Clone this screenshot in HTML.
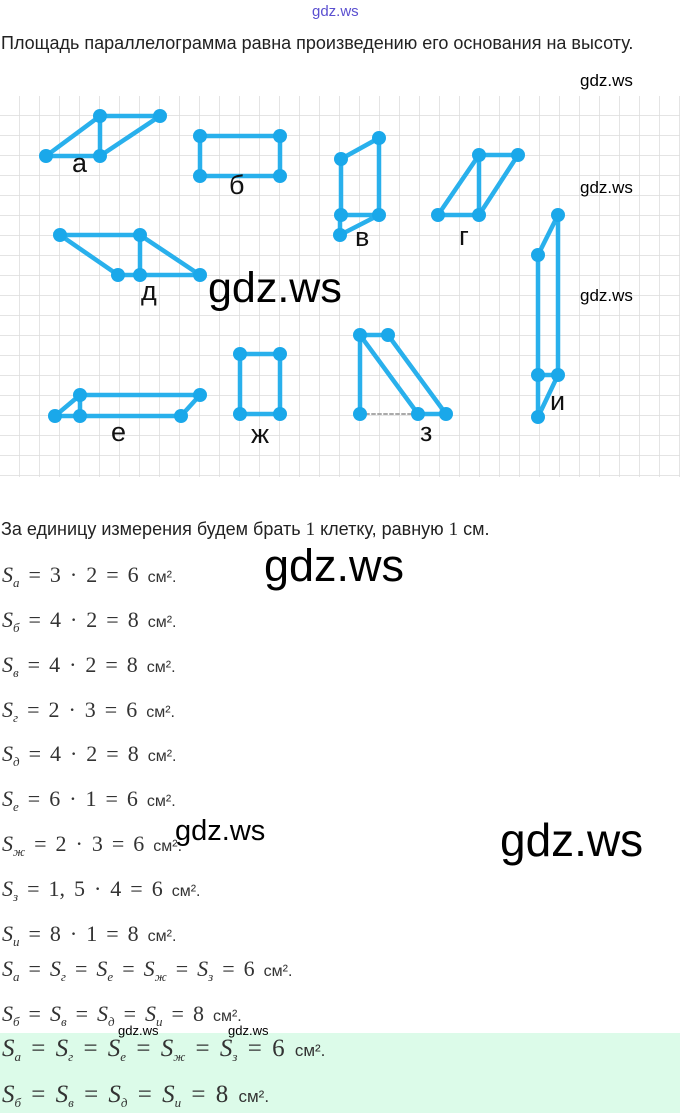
<!DOCTYPE html>
<html><head><meta charset="utf-8">
<style>
html,body{margin:0;padding:0;background:#fff;width:680px;height:1113px;overflow:hidden;position:relative}
.t{position:absolute;white-space:nowrap;font-family:"Liberation Sans",sans-serif;color:#222}
.w{position:absolute;white-space:nowrap;font-family:"Liberation Sans",sans-serif;color:#000}
.f{position:absolute;left:2px;white-space:nowrap;font-family:"Liberation Serif",serif;font-size:22px;color:#333;word-spacing:3.5px}
.f i{font-style:italic}
.f sub{font-size:13px;font-style:italic;vertical-align:-5px}
.f .u{font-family:"Liberation Sans",sans-serif;font-size:16px;word-spacing:0}
.g{position:absolute;left:0;top:1033px;width:680px;height:80px;background:#dcfbe9}
</style></head><body>
<div class="t" style="left:312px;top:3px;font-size:15px;color:#5a4fd0">gdz.ws</div>
<div class="t" style="left:1px;top:33px;font-size:18px">Площадь параллелограмма равна произведению его основания на высоту.</div>
<div class="w" style="left:580px;top:71px;font-size:17px">gdz.ws</div>

<svg style="position:absolute;left:0;top:96px" width="680" height="382">
<defs><pattern id="gr" width="20" height="20" patternUnits="userSpaceOnUse" x="0" y="0">
<path d="M20 0V20M0 20H20" stroke="#dcdcdc" stroke-width="1.5" fill="none"/></pattern></defs>
<rect width="680" height="381" fill="url(#gr)"/>
<g transform="translate(0,-96)" stroke="#29b0ec" stroke-width="4.5" fill="none" stroke-linecap="round">
<path d="M46 156L100 116L160 116L100 156ZM100 116V156"/>
<path d="M200 136H280V176H200Z"/>
<path d="M341 159L379 138V215H341ZM340 215V235L379 215"/>
<path d="M438 215L479 155H518L479 215ZM479 155V215"/>
<path d="M60 235H140L200 275H118ZM140 235V275"/>
<path d="M360 335H388L446 414H418L360 335V414"/>
<path d="M360 414H418" stroke="#aaa" stroke-width="2" stroke-dasharray="3 3"/>
<path d="M538 255L558 215V375H538ZM538 375V417L558 375"/>
<path d="M80 395H200L181 416H55L80 395V416"/>
<path d="M240 354H280V414H240Z"/>
</g>
<g transform="translate(0,-96)" fill="#1aa8ea">
<circle cx="46" cy="156" r="7"/><circle cx="100" cy="116" r="7"/><circle cx="160" cy="116" r="7"/><circle cx="100" cy="156" r="7"/>
<circle cx="200" cy="136" r="7"/><circle cx="280" cy="136" r="7"/><circle cx="200" cy="176" r="7"/><circle cx="280" cy="176" r="7"/>
<circle cx="341" cy="159" r="7"/><circle cx="379" cy="138" r="7"/><circle cx="379" cy="215" r="7"/><circle cx="341" cy="215" r="7"/><circle cx="340" cy="235" r="7"/>
<circle cx="438" cy="215" r="7"/><circle cx="479" cy="155" r="7"/><circle cx="518" cy="155" r="7"/><circle cx="479" cy="215" r="7"/>
<circle cx="60" cy="235" r="7"/><circle cx="140" cy="235" r="7"/><circle cx="200" cy="275" r="7"/><circle cx="118" cy="275" r="7"/><circle cx="140" cy="275" r="7"/>
<circle cx="360" cy="335" r="7"/><circle cx="388" cy="335" r="7"/><circle cx="446" cy="414" r="7"/><circle cx="418" cy="414" r="7"/><circle cx="360" cy="414" r="7"/>
<circle cx="558" cy="215" r="7"/><circle cx="538" cy="255" r="7"/><circle cx="558" cy="375" r="7"/><circle cx="538" cy="375" r="7"/><circle cx="538" cy="417" r="7"/>
<circle cx="80" cy="395" r="7"/><circle cx="200" cy="395" r="7"/><circle cx="181" cy="416" r="7"/><circle cx="55" cy="416" r="7"/><circle cx="80" cy="416" r="7"/>
<circle cx="240" cy="354" r="7"/><circle cx="280" cy="354" r="7"/><circle cx="240" cy="414" r="7"/><circle cx="280" cy="414" r="7"/>
</g>
<g transform="translate(0,-96)" font-family="Liberation Sans,sans-serif" font-size="27" fill="#111">
<text x="72" y="172">а</text><text x="229" y="194">б</text><text x="355" y="246">в</text><text x="459" y="245">г</text>
<text x="141" y="300">д</text><text x="111" y="441">е</text><text x="251" y="443">ж</text><text x="420" y="441">з</text><text x="550" y="410">и</text>
</g>
</svg>
<div class="w" style="left:580px;top:178px;font-size:17px">gdz.ws</div>
<div class="w" style="left:580px;top:286px;font-size:17px">gdz.ws</div>
<div class="w" style="left:208px;top:264px;font-size:43px">gdz.ws</div>

<div class="t" style="left:1px;top:519px;font-size:18px">За единицу измерения будем брать <span style="font-family:'Liberation Serif',serif;font-size:19px">1</span> клетку, равную <span style="font-family:'Liberation Serif',serif;font-size:19px">1</span> см.</div>
<div class="w" style="left:264px;top:540px;font-size:45px">gdz.ws</div>

<div class="f" style="top:562px"><i>S</i><sub>а</sub> = 3 · 2 = 6 <span class="u">см².</span></div>
<div class="f" style="top:607px"><i>S</i><sub>б</sub> = 4 · 2 = 8 <span class="u">см².</span></div>
<div class="f" style="top:652px"><i>S</i><sub>в</sub> = 4 · 2 = 8 <span class="u">см².</span></div>
<div class="f" style="top:697px"><i>S</i><sub>г</sub> = 2 · 3 = 6 <span class="u">см².</span></div>
<div class="f" style="top:741px"><i>S</i><sub>д</sub> = 4 · 2 = 8 <span class="u">см².</span></div>
<div class="f" style="top:786px"><i>S</i><sub>е</sub> = 6 · 1 = 6 <span class="u">см².</span></div>
<div class="f" style="top:831px"><i>S</i><sub>ж</sub> = 2 · 3 = 6 <span class="u">см².</span></div>
<div class="f" style="top:876px"><i>S</i><sub>з</sub> = 1, 5 · 4 = 6 <span class="u">см².</span></div>
<div class="f" style="top:921px"><i>S</i><sub>и</sub> = 8 · 1 = 8 <span class="u">см².</span></div>
<div class="f" style="top:956px"><i>S</i><sub>а</sub> = <i>S</i><sub>г</sub> = <i>S</i><sub>е</sub> = <i>S</i><sub>ж</sub> = <i>S</i><sub>з</sub> = 6 <span class="u">см².</span></div>
<div class="f" style="top:1001px"><i>S</i><sub>б</sub> = <i>S</i><sub>в</sub> = <i>S</i><sub>д</sub> = <i>S</i><sub>и</sub> = 8 <span class="u">см².</span></div>
<div class="w" style="left:175px;top:815px;font-size:29px">gdz.ws</div>
<div class="w" style="left:500px;top:813px;font-size:46px">gdz.ws</div>

<div class="g"></div>
<div class="w" style="left:118px;top:1023px;font-size:13px">gdz.ws</div>
<div class="w" style="left:228px;top:1023px;font-size:13px">gdz.ws</div>
<div class="f" style="top:1035px;font-size:25px;word-spacing:4px"><i>S</i><sub>а</sub> = <i>S</i><sub>г</sub> = <i>S</i><sub>е</sub> = <i>S</i><sub>ж</sub> = <i>S</i><sub>з</sub> = 6 <span class="u" style="font-size:17px">см².</span></div>
<div class="f" style="top:1081px;font-size:25px;word-spacing:4px"><i>S</i><sub>б</sub> = <i>S</i><sub>в</sub> = <i>S</i><sub>д</sub> = <i>S</i><sub>и</sub> = 8 <span class="u" style="font-size:17px">см².</span></div>
</body></html>
